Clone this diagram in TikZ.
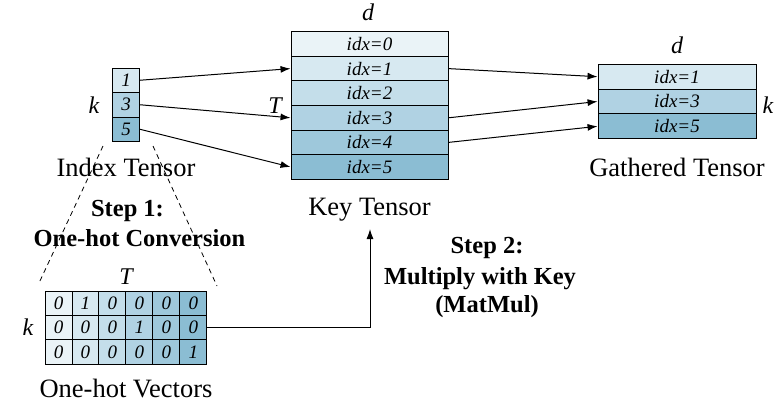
\documentclass[tikz,border=0pt]{standalone}
\usepackage{fontspec}
\setmainfont{Liberation Serif}
\usetikzlibrary{arrows.meta}
\definecolor{c0}{HTML}{EAF3F7}
\definecolor{c1}{HTML}{D7E9F1}
\definecolor{c2}{HTML}{C4DEEA}
\definecolor{c3}{HTML}{B0D2E3}
\definecolor{c4}{HTML}{9EC8DB}
\definecolor{c5}{HTML}{8BBDD3}
\begin{document}
\begin{tikzpicture}[x=1pt,y=-1pt,
  cell/.style={draw=black, line width=0.9pt, inner sep=0pt, font=\fontsize{19}{19}\selectfont\itshape},
  idxcell/.style={cell, minimum width=27pt, minimum height=24.5pt},
  keycell/.style={cell, minimum width=157pt, minimum height=24.6pt},
  gcell/.style={cell, minimum width=158pt, minimum height=24.8pt},
  ohcell/.style={cell, minimum width=26.95pt, minimum height=24.45pt},
  lbl/.style={font=\fontsize{26.5}{26.5}\selectfont, inner sep=0pt, anchor=base},
  dimlbl/.style={font=\fontsize{24}{24}\selectfont\itshape, inner sep=0pt, anchor=base},
  steptxt/.style={font=\fontsize{24.5}{24.5}\selectfont\bfseries, inner sep=0pt, anchor=base},
  arr/.style={line width=1pt, -{Latex[length=10pt,width=7pt]}},
  guide/.style={line width=0.8pt, dash pattern=on 5pt off 4pt}
]
\useasboundingbox (0,0) rectangle (775,410);
% Index tensor
\node[idxcell, fill=c1] (i1) at (126,80.25) {1};
\node[idxcell, fill=c3] (i3) at (126,104.75) {3};
\node[idxcell, fill=c5] (i5) at (126,129.25) {5};
% Key tensor
\foreach \r in {0,...,5} {
  \node[keycell, fill=c\r] (k\r) at (369.5,{44+24.6*\r}) {idx=\r};
}
% Gathered tensor
\node[gcell, fill=c1] (g1) at (677,76.7) {idx=1};
\node[gcell, fill=c3] (g3) at (677,101.5) {idx=3};
\node[gcell, fill=c5] (g5) at (677,126.3) {idx=5};
% One-hot
\foreach \c/\a/\b/\d in {0/0/0/0,1/1/0/0,2/0/0/0,3/0/1/0,4/0/0/0,5/0/0/1} {
  \node[ohcell, fill=c\c] (o0\c) at ({58.5+26.95*\c},303.2) {\a};
  \node[ohcell, fill=c\c] (o1\c) at ({58.5+26.95*\c},327.65) {\b};
  \node[ohcell, fill=c\c] (o2\c) at ({58.5+26.95*\c},352.1) {\d};
}
% Labels
\node[lbl] (lidx) at (126,176.7) {Index Tensor};
\node[lbl] (lkey) at (369.5,215) {Key Tensor};
\node[lbl] (lg) at (677,176.7) {Gathered Tensor};
\node[lbl] (loh) at (126,397) {One-hot Vectors};
\node[dimlbl] (dk) at (368,20) {d};
\node[dimlbl] (dg) at (677,53) {d};
\node[dimlbl] (ki) at (94,113) {k};
\node[dimlbl] (tk) at (275,113) {T};
\node[dimlbl] (kg) at (768,113) {k};
\node[dimlbl] (toh) at (126,284) {T};
\node[dimlbl] (koh) at (28,335) {k};
\node[steptxt] (s1a) at (127.5,216.7) {Step 1:};
\node[steptxt] (s1b) at (139.5,246.7) {One-hot Conversion};
\node[steptxt] (s2a) at (487,253) {Step 2:};
\node[steptxt] (s2b) at (480,284) {Multiply with Key};
\node[steptxt] (s2c) at (487,312) {(MatMul)};
% Arrows
\draw[arr] (i1.east) -- (k1.west);
\draw[arr] (i3.east) -- (k3.west);
\draw[arr] (i5.east) -- (k5.west);
\draw[arr] (k1.east) -- (g1.west);
\draw[arr] (k3.east) -- (g3.west);
\draw[arr] (k4.east) -- (g5.west);
\coordinate (s2end) at (370,229);
\draw[arr] (o15.east) -| (s2end);
% Dashed guides
\coordinate (dl1) at (103,146);
\coordinate (dl2) at (39,283);
\coordinate (dr1) at (153,146);
\coordinate (dr2) at (217,286);
\draw[guide] (dl1) -- (dl2);
\draw[guide] (dr1) -- (dr2);
\end{tikzpicture}
\end{document}
